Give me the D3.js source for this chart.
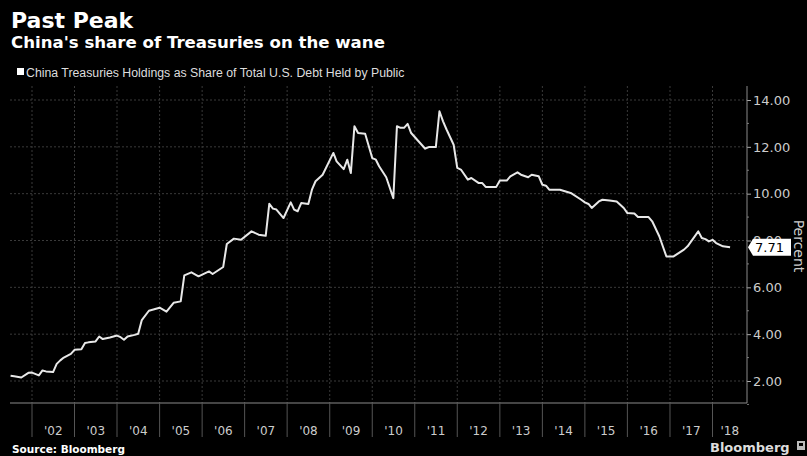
<!DOCTYPE html>
<html>
<head>
<meta charset="utf-8">
<script src="https://cdn.jsdelivr.net/npm/d3@7"></script>
<style>
  html, body { margin: 0; padding: 0; background: #000; }
  svg { display: block; }
</style>
</head>
<body>
<svg id="chart" width="807" height="456"></svg>
<script>
// ---- Data ----
const dates = [
  "2001-07","2001-08","2001-10","2001-12","2002-01","2002-03","2002-04","2002-05","2002-07","2002-08",
  "2002-09","2002-10","2002-12","2003-01","2003-03","2003-04","2003-05","2003-07","2003-08","2003-09",
  "2003-11","2004-01","2004-02","2004-03","2004-04","2004-06","2004-07","2004-08","2004-10","2005-01",
  "2005-03","2005-05","2005-07","2005-08","2005-10","2005-12","2006-03","2006-04","2006-07","2006-08",
  "2006-10","2006-12","2007-03","2007-05","2007-07","2007-08","2007-09","2007-10","2007-12","2008-02",
  "2008-03","2008-04","2008-05","2008-07","2008-08","2008-09","2008-11","2009-02","2009-03","2009-05",
  "2009-06","2009-07","2009-08","2009-09","2009-11","2010-01","2010-02","2010-03","2010-05","2010-07",
  "2010-08","2010-09","2010-10","2010-11","2010-12","2011-04","2011-05","2011-07","2011-08","2011-09",
  "2011-10","2011-12","2012-01","2012-02","2012-04","2012-05","2012-07","2012-08","2012-09","2012-12",
  "2013-01","2013-03","2013-04","2013-06","2013-07","2013-09","2013-10","2013-12","2014-01","2014-02",
  "2014-03","2014-06","2014-09","2014-12","2015-01","2015-02","2015-03","2015-05","2015-06","2015-08",
  "2015-10","2015-12","2016-01","2016-03","2016-04","2016-07","2016-08","2016-10","2016-12","2017-02",
  "2017-05","2017-06","2017-09","2017-10","2017-11","2017-12","2018-01","2018-02","2018-04","2018-06"
];
const shareValues = [
  2.22,2.20,2.15,2.35,2.36,2.24,2.45,2.41,2.38,2.73,
  2.88,3.00,3.16,3.33,3.36,3.62,3.65,3.69,3.90,3.79,
  3.86,3.94,3.87,3.76,3.90,3.97,4.02,4.60,5.00,5.13,
  4.96,5.34,5.40,6.51,6.64,6.47,6.68,6.57,6.87,7.85,
  8.08,8.03,8.39,8.25,8.20,9.57,9.36,9.32,8.96,9.63,
  9.32,9.25,9.60,9.56,10.17,10.53,10.81,11.74,11.38,11.05,
  11.45,10.88,12.88,12.59,12.56,11.52,11.45,11.17,10.70,9.81,
  12.88,12.81,12.81,12.98,12.59,11.92,11.99,11.99,13.52,13.09,
  12.74,12.09,11.10,11.03,10.60,10.67,10.46,10.46,10.29,10.29,
  10.56,10.56,10.74,10.91,10.81,10.70,10.81,10.74,10.38,10.34,
  10.17,10.17,10.03,9.74,9.63,9.56,9.39,9.67,9.74,9.71,
  9.67,9.39,9.17,9.15,9.00,9.00,8.82,8.18,7.32,7.32,
  7.61,7.75,8.39,8.11,8.06,7.96,8.03,7.89,7.75,7.71
];
const yTickValues = [2, 4, 6, 8, 10, 12, 14];
const yMinorTicks = [1, 3, 5, 7, 9, 11, 13];
const yearTicks = [2002,2003,2004,2005,2006,2007,2008,2009,2010,2011,2012,2013,2014,2015,2016,2017,2018];
const yearLabels = ["'02","'03","'04","'05","'06","'07","'08","'09","'10","'11","'12","'13","'14","'15","'16","'17","'18"];
const lastValueLabel = "7.71";
const titleText = "Past Peak";
const subtitleText = "China's share of Treasuries on the wane";
const legendText = "China Treasuries Holdings as Share of Total U.S. Debt Held by Public";
const sourceText = "Source: Bloomberg";
const unitText = "Percent";

// ---- Layout ----
const svg = d3.select("#chart");
const plot = { left: 10, right: 747, top: 86, bottom: 403 };
const parse = d3.timeParse("%Y-%m");
const data = dates.map((d, i) => ({ date: parse(d), value: shareValues[i] }));

const x = d3.scaleTime()
  .domain([new Date(2002, 0, 1), new Date(2018, 0, 1)])
  .range([32, 712.5]);
const y = d3.scaleLinear().domain([2, 14]).range([381, 100]);

svg.append("rect").attr("width", 807).attr("height", 456).attr("fill", "#000");

// Titles
const sans = "'DejaVu Sans', Verdana, sans-serif";
svg.append("text").attr("x", 11).attr("y", 28).attr("fill", "#fff")
  .attr("font-family", sans).attr("font-weight", "bold").attr("font-size", 22).text(titleText);
svg.append("text").attr("x", 11).attr("y", 48).attr("fill", "#fff")
  .attr("font-family", sans).attr("font-weight", "bold").attr("font-size", 16.6).text(subtitleText);
svg.append("rect").attr("x", 17).attr("y", 68).attr("width", 7).attr("height", 7).attr("fill", "#fff");
svg.append("text").attr("x", 26).attr("y", 76.5).attr("fill", "#ddd")
  .attr("font-family", "'Liberation Sans', Arial, sans-serif").attr("font-size", 12.3).text(legendText);

// Grid
const grid = svg.append("g");
grid.selectAll("line.h").data(yTickValues).join("line")
  .attr("x1", plot.left).attr("x2", plot.right)
  .attr("y1", d => y(d)).attr("y2", d => y(d))
  .attr("stroke", "#3a3a3a").attr("stroke-width", 1).attr("stroke-dasharray", "2,2");
grid.selectAll("line.v").data(yearTicks).join("line")
  .attr("x1", d => x(new Date(d, 0, 1))).attr("x2", d => x(new Date(d, 0, 1)))
  .attr("y1", plot.top).attr("y2", plot.bottom)
  .attr("stroke", "#3a3a3a").attr("stroke-width", 1).attr("stroke-dasharray", "2,2");

// Bottom axis: frame line + separators + labels
svg.append("line").attr("x1", plot.left).attr("x2", plot.right)
  .attr("y1", plot.bottom).attr("y2", plot.bottom).attr("stroke", "#8a8a8a").attr("stroke-width", 1);
svg.selectAll("line.sep").data(yearTicks).join("line")
  .attr("x1", d => x(new Date(d, 0, 1))).attr("x2", d => x(new Date(d, 0, 1)))
  .attr("y1", plot.bottom).attr("y2", 437)
  .attr("stroke", "#555").attr("stroke-width", 1);
svg.selectAll("text.year").data(yearTicks).join("text")
  .attr("x", (d) => {
    const a = x(new Date(d, 0, 1));
    const b = Math.min(x(new Date(d + 1, 0, 1)), plot.right);
    return (a + b) / 2;
  })
  .attr("y", 435).attr("text-anchor", "middle").attr("fill", "#ccc")
  .attr("font-family", sans).attr("font-size", 12)
  .text((d, i) => yearLabels[i]);

// Right axis
const yAxis = d3.axisRight(y).tickValues(yTickValues).tickFormat(d3.format(".2f")).tickSize(4).tickPadding(2);
const ga = svg.append("g").attr("transform", `translate(${plot.right},0)`).call(yAxis);
ga.select(".domain").remove();
ga.selectAll(".tick line").attr("stroke", "#aaa");
ga.selectAll(".tick text").attr("fill", "#ccc").attr("font-family", sans).attr("font-size", 13);
svg.selectAll("line.minor").data(yMinorTicks).join("line")
  .attr("x1", plot.right).attr("x2", plot.right + 2)
  .attr("y1", d => y(d)).attr("y2", d => y(d)).attr("stroke", "#777");
svg.append("line").attr("x1", plot.right).attr("x2", plot.right)
  .attr("y1", plot.top).attr("y2", plot.bottom).attr("stroke", "#8a8a8a").attr("stroke-width", 1);

// Percent label
svg.append("text").attr("transform", `translate(794,246) rotate(90)`)
  .attr("text-anchor", "middle").attr("fill", "#ccc")
  .attr("font-family", sans).attr("font-size", 14).text(unitText);

// Line
const line = d3.line().x(d => x(d.date)).y(d => y(d.value));
svg.append("path").datum(data).attr("d", line)
  .attr("fill", "none").attr("stroke", "#e8e8e8").attr("stroke-width", 2)
  .attr("stroke-linejoin", "round");

// Last value label
const ly = y(shareValues[shareValues.length - 1]);
svg.append("path")
  .attr("d", `M${plot.right + 1},${ly} L${plot.right + 6},${ly - 8.5} L${plot.right + 44},${ly - 8.5} L${plot.right + 44},${ly + 8.5} L${plot.right + 6},${ly + 8.5} Z`)
  .attr("fill", "#fff");
svg.append("text").attr("x", plot.right + 8).attr("y", ly + 5)
  .attr("fill", "#000").attr("font-family", sans).attr("font-size", 13).text(lastValueLabel);

// Footer
svg.append("text").attr("x", 12).attr("y", 453).attr("fill", "#fff")
  .attr("font-family", sans).attr("font-weight", "bold").attr("font-size", 10.5).text(sourceText);
svg.append("text").attr("x", 710).attr("y", 452).attr("fill", "#ddd")
  .attr("font-family", sans).attr("font-weight", "bold").attr("font-size", 13).text("Bloomberg");
svg.append("rect").attr("x", 797).attr("y", 441).attr("width", 8).attr("height", 9).attr("fill", "#bbb");
svg.append("rect").attr("x", 799).attr("y", 443).attr("width", 4).attr("height", 3).attr("fill", "#000");
</script>
</body>
</html>
